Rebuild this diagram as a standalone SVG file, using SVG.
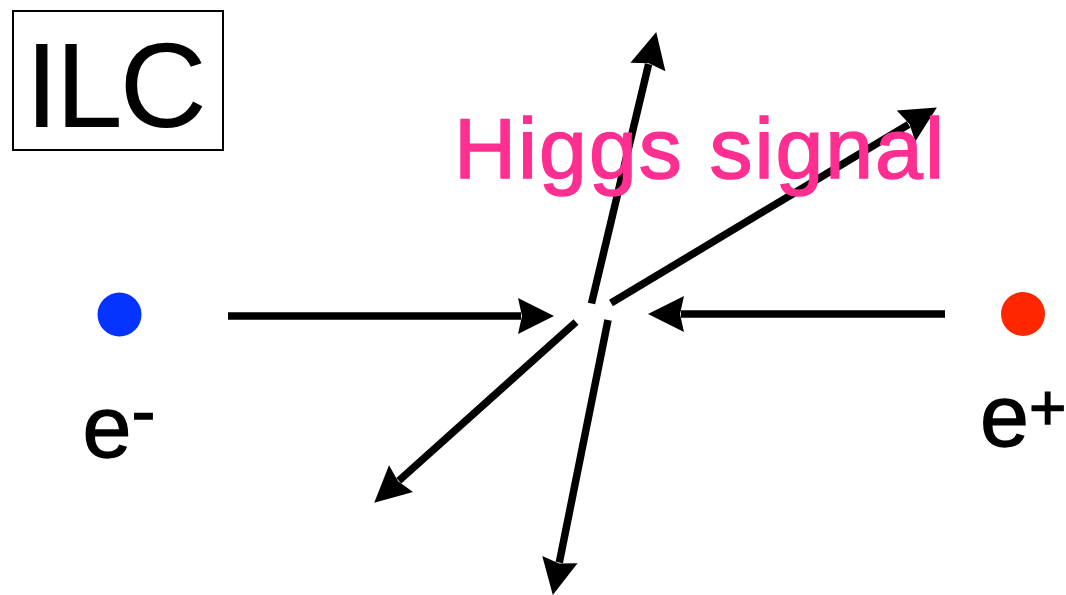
<svg xmlns="http://www.w3.org/2000/svg" width="1066" height="595" viewBox="0 0 1066 595">
<style>
.arr{stroke:#000;stroke-width:7.5;fill:none;stroke-linecap:butt;marker-end:url(#head)}
.lbl{font-family:"Liberation Sans",Arial,Helvetica,sans-serif;fill:#000}
.med{stroke:#000;stroke-width:1.3}
</style>
<defs>
<marker id="head" markerUnits="userSpaceOnUse" markerWidth="42" markerHeight="42" viewBox="-5 -21 42 42" refX="0" refY="0" orient="auto">
<path d="M33,0 L-3,-18 L1,0 L-3,18 Z" fill="#000"/>
</marker>
</defs>
<rect width="1066" height="595" fill="#fff"/>
<g id="ilc">
<rect x="13" y="11" width="210" height="139" fill="none" stroke="#000" stroke-width="2"/>
<text class="lbl" x="25" y="127" font-size="121" textLength="182" lengthAdjust="spacing">ILC</text>
</g>
<g id="electron">
<circle cx="119.5" cy="314.5" r="22" fill="#0433FF"/>
<text class="lbl med" x="82.5" y="457" font-size="88">e</text>
<text class="lbl med" x="131.5" y="435" font-size="72">-</text>
</g>
<g id="positron">
<circle cx="1023" cy="314" r="22" fill="#FF2600"/>
<text class="lbl med" x="980" y="446" font-size="88">e</text>
<text class="lbl med" x="1029" y="430" font-size="64">+</text>
</g>
<g id="connectors">
<line class="arr" x1="228" y1="316" x2="521" y2="316"/>
<line class="arr" x1="945" y1="314" x2="681" y2="314"/>
<line class="arr" x1="591.5" y1="303.5" x2="648.6" y2="64.1"/>
<line class="arr" x1="608" y1="320" x2="559.3" y2="562.6"/>
<line class="arr" x1="611" y1="303" x2="908.6" y2="124.5"/>
<line class="arr" x1="576" y1="322" x2="398.8" y2="480.7"/>
</g>
<g id="higgs">
<text x="454" y="178" font-size="86" font-family="'Liberation Sans',Arial,Helvetica,sans-serif" fill="#FF2F92" stroke="#FF2F92" stroke-width="1.5" textLength="490" lengthAdjust="spacing">Higgs signal</text>
</g>
</svg>
